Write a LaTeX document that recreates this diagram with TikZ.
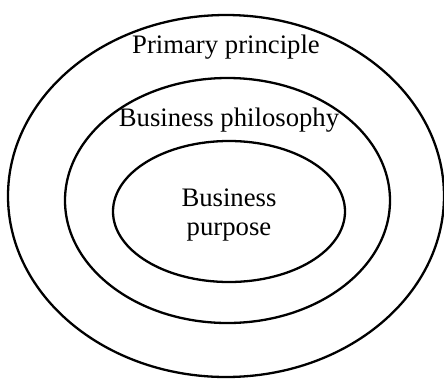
\documentclass[tikz,border=0pt]{standalone}
\usepackage{fontspec}
\setmainfont{Liberation Serif}
\usetikzlibrary{shapes.geometric}
\begin{document}
\begin{tikzpicture}[x=1pt,y=-1pt,
  ring/.style={draw=black,line width=2.3pt,ellipse,inner sep=0pt,outer sep=0pt},
  lbl/.style={anchor=base,inner sep=0pt,font=\fontsize{26.7}{29}\selectfont}]
\useasboundingbox (0,0) rectangle (444,378);
\node[ring,minimum width=436pt,minimum height=362pt] (outer) at (226,196) {};
\node[ring,minimum width=325pt,minimum height=245pt] (middle) at (227.5,200.5) {};
\node[ring,minimum width=232pt,minimum height=141pt] (inner) at (229,211.5) {};
\node[lbl] (t1) at (226,53) {Primary principle};
\node[lbl] (t2) at (229,126) {Business philosophy};
\node[lbl] (t3) at (229,206) {Business};
\node[lbl] (t4) at (229,235) {purpose};
\end{tikzpicture}
\end{document}
